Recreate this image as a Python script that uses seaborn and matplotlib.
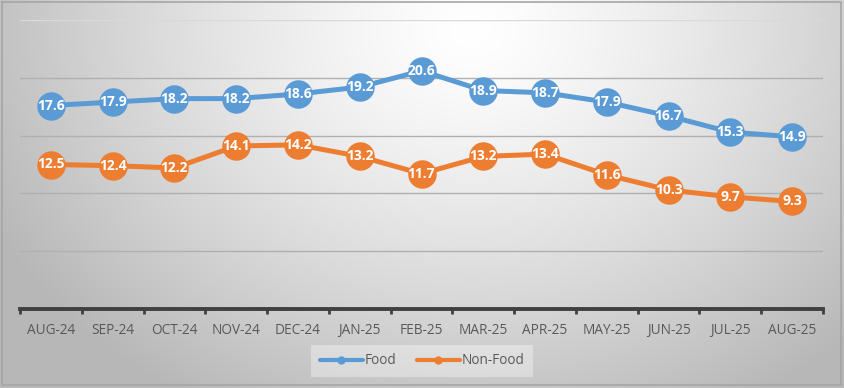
import numpy as np
import pandas as pd
import matplotlib
matplotlib.use("Agg")
import matplotlib.pyplot as plt
import seaborn as sns

months = ["AUG-24", "SEP-24", "OCT-24", "NOV-24", "DEC-24", "JAN-25", "FEB-25",
          "MAR-25", "APR-25", "MAY-25", "JUN-25", "JUL-25", "AUG-25"]
food = [17.6, 17.9, 18.2, 18.2, 18.6, 19.2, 20.6, 18.9, 18.7, 17.9, 16.7, 15.3, 14.9]
non_food = [12.5, 12.4, 12.2, 14.1, 14.2, 13.2, 11.7, 13.2, 13.4, 11.6, 10.3, 9.7, 9.3]
series_names = ["Food", "Non-Food"]
colors = ["#5B9BD5", "#ED7D31"]

df = pd.DataFrame({
    "month": months * 2,
    "x": list(range(len(months))) * 2,
    "value": food + non_food,
    "series": [series_names[0]] * len(months) + [series_names[1]] * len(months),
})

sns.set_theme(style="white")
plt.rcParams["font.family"] = ["Open Sans", "DejaVu Sans"]

W, H = 844, 388
fig = plt.figure(figsize=(W / 100, H / 100), dpi=100)

# background radial gradient
bg = fig.add_axes([0, 0, 1, 1], zorder=-10)
yy, xx = np.mgrid[0:H, 0:W]
d = np.sqrt(((xx - 470) / 520.0) ** 2 + ((yy - 30) / 420.0) ** 2)
val = np.clip(1.0 - 0.27 * d ** 1.3, 0.72, 1.0)
img = np.dstack([val, val, val])
bg.imshow(img, extent=[0, W, H, 0], aspect="auto", interpolation="bilinear")
bg.set_xlim(0, W)
bg.set_ylim(H, 0)
bg.axis("off")
# outer border
bg.plot([2, W - 3, W - 3, 2, 2], [2, 2, H - 3, H - 3, 2], color="#a6a6a6", lw=1.2)

ax = fig.add_axes([20 / W, 79 / H, 803 / W, 289 / H])
ax.patch.set_alpha(0)
n = len(months)
ax.set_xlim(-0.5, n - 0.5)
ax.set_ylim(0, 25)

for v in [5, 10, 15, 20, 25]:
    ax.axhline(v, color="#b0b0b0" if v < 25 else "#d9d9d9", lw=1.0, zorder=1)

sns.lineplot(data=df, x="x", y="value", hue="series", palette=colors,
             marker="o", markersize=20.5, markeredgewidth=0, linewidth=3.6,
             ax=ax, zorder=3, legend=True)

for vals in [food, non_food]:
    for i, v in enumerate(vals):
        ax.text(i, v, f"{v:.1f}", ha="center", va="center", color="white",
                fontsize=10, fontweight="bold", zorder=5)

for s in ["left", "right", "top"]:
    ax.spines[s].set_visible(False)
ax.spines["bottom"].set_color("#404040")
ax.spines["bottom"].set_linewidth(2.8)
ax.set_yticks([])
ax.set_xticks(range(n))
ax.set_xticklabels(months)
ax.set_xticks(np.arange(-0.5, n, 1.0), minor=True)
ax.tick_params(axis="x", which="major", bottom=False, length=0, pad=10,
               labelsize=9.8, labelcolor="#595959")
ax.tick_params(axis="x", which="minor", bottom=True, length=3.5, width=2,
               color="#404040", direction="out")
ax.set_xlabel("")
ax.set_ylabel("")

leg = ax.legend(loc="center", bbox_to_anchor=(402 / 803, -52 / 289), ncol=2,
                frameon=True, fontsize=9.8, handlelength=3.2, columnspacing=1.5,
                handletextpad=0.1, borderpad=0.6)
leg.get_frame().set_facecolor("white")
leg.get_frame().set_alpha(0.35)
leg.get_frame().set_edgecolor("none")
leg.get_frame().set_boxstyle("square", pad=0)
for line in leg.get_lines():
    line.set_markersize(6)
    line.set_linewidth(3)
for t in leg.get_texts():
    t.set_color("#595959")

fig.savefig("out.png", dpi=100)
